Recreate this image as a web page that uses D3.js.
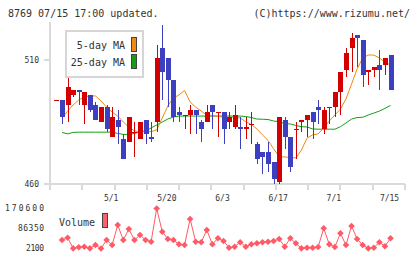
<!DOCTYPE html>
<html><head><meta charset="utf-8">
<script src="https://cdn.jsdelivr.net/npm/d3@7"></script>
<style>
body{margin:0;background:#fff}
svg{display:block}
text{font-family:"DejaVu Sans Mono",monospace;fill:#333}
</style>
</head><body>
<svg id="c" width="420" height="259"></svg>
<script>
// ---- data ----
const dates = ["4/16","4/17","4/20","4/21","4/22","4/23","4/24","4/27","4/28","4/30",
  "5/1","5/7","5/8","5/11","5/12","5/13","5/14","5/15","5/18","5/19",
  "5/20","5/21","5/22","5/25","5/26","5/27","5/28","5/29","6/1","6/2",
  "6/3","6/4","6/5","6/8","6/9","6/10","6/11","6/12","6/15","6/16",
  "6/17","6/18","6/19","6/22","6/23","6/24","6/25","6/26","6/29","6/30",
  "7/1","7/2","7/3","7/6","7/7","7/8","7/9","7/10","7/13","7/14","7/15"];
const open  = [494,494,492,496,498,492,496,492,485,491,479,486,478,477,481,478,486,479,485,515,
  511,502,489,488,488,490,485,485,492,489,489,485,483,483,482,484,476,473,473,469,
  461,486,479,482,485,486,489,491,482,491,491,497,506,515,520,518,505,506,508,508,512];
const high  = [494,494,503,498,498,497,496,493,491,492,491,490,480,487,485,485,486,485,516,524,
  511,502,491,488,492,490,486,492,492,489,489,489,492,487,487,489,477,473,477,469,
  487,487,479,485,486,488,489,494,491,491,497,505,515,521,520,518,506,507,514,511,512];
const low   = [494,484,485,495,492,484,489,486,485,481,479,476,470,477,471,478,476,477,481,494,
  491,485,485,482,480,480,477,485,482,479,476,482,482,474,478,476,468,464,465,460,
  460,474,465,470,481,479,478,484,480,484,487,488,503,505,507,499,500,503,498,504,498];
const close = [494,487,499,498,497,497,490,486,491,482,487,483,470,487,481,485,480,478,511,505,
  502,487,488,488,490,488,482,489,489,489,482,487,488,482,483,484,470,471,468,462,
  487,479,467,482,486,488,485,490,490,491,497,505,513,519,519,504,506,507,506,511,498];
const ma5 = [null,486.6,489.4,491.9,493.9,495.1,495.5,495.5,493.5,491.0,489.0,487.4,485.0,483.0,481.4,481.1,481.1,481.1,481.8,486.6,
  491.5,494.7,495.9,497.7,493.1,491.0,489.4,487.8,487.6,487.2,487.0,486.9,486.9,486.6,485.1,484.0,482.2,479.8,477.6,474.2,
  471.0,470.9,470.7,470.5,473.7,478.5,479.8,480.2,482.6,485.4,487.8,490.2,494.3,500.3,506.4,510.8,512.0,512.0,510.8,509.2,508.0];
const ma25 = [null,480.8,480.2,480.8,480.9,480.9,480.9,480.9,480.9,480.9,480.9,480.4,480.0,480.0,480.4,481.0,481.4,482.6,483.8,485.0,
  486.2,487.0,487.4,487.4,487.4,487.4,487.4,487.4,487.4,487.4,487.4,487.4,487.4,487.4,487.2,486.8,486.2,486.1,486.0,485.4,
  485.1,484.4,484.2,483.6,483.1,483.0,482.2,482.1,482.1,482.1,482.1,483.1,484.6,486.2,486.8,486.9,487.8,488.6,489.4,490.5,491.7];
const volume = [null,37900,47600,2900,7200,9700,2900,16800,2100,37900,16800,101100,37900,84200,37900,59000,37900,30700,170600,72900,
  42100,37900,19800,16800,126400,30700,28200,80000,19800,45100,33700,5500,9700,28200,9700,19800,24000,28200,30700,33700,
  42100,9700,45100,24000,2900,5500,5500,8400,87200,19800,8400,66100,16800,96900,42100,16800,2900,5500,28200,11400,45100];
const priceTicks = [460, 510];
const volumeTicks = [2100, 86350, 170600];
const dateLabels = ["5/1","5/20","6/3","6/17","7/1","7/15"];
const legendItems = ["5-day MA","25-day MA"];

// ---- styles ----
const RED = "#d40000", BLUE = "#3c40c0", ORANGE = "#f08a10", GREEN = "#12a012",
      VOL = "#ff5a66", AXIS = "#dadada";
const volLabelWidth = {2100: 18, 86350: 26, 170600: 39};

const svg = d3.select("#c");

// scales
const x = d3.scaleBand().domain(dates).range([53.7, 393.3]).padding(0);
const cx = d => x(d) + x.bandwidth() / 2;
const y = d3.scaleLinear().domain([460, 510]).range([184, 60]);
const yv = d3.scaleLinear().domain([2100, 170600]).range([248.5, 208.5]);
const grid = d3.scaleLinear().domain([0, 11]).range([50, 405]);

// header
svg.append("text").attr("x", 8).attr("y", 17).style("font-size", "10px")
  .text("8769 07/15 17:00 updated.");
svg.append("text").attr("x", 410).attr("y", 17).attr("text-anchor", "end").style("font-size", "10px")
  .text("(C)https://www.rizumu.net/");

// axes lines
const ax = svg.append("g").attr("stroke", AXIS).attr("stroke-width", 2).attr("shape-rendering", "crispEdges");
ax.append("line").attr("x1", grid(0)).attr("x2", grid(0)).attr("y1", 22).attr("y2", 190);
ax.append("line").attr("x1", grid(0)).attr("x2", grid(11)).attr("y1", y(460)).attr("y2", y(460));
ax.selectAll("line.t").data(d3.range(1, 12)).join("line").attr("class", "t")
  .attr("x1", d => grid(d)).attr("x2", d => grid(d)).attr("y1", y(460)).attr("y2", 190);
ax.selectAll("line.yt").data(priceTicks).join("line").attr("class", "yt")
  .attr("x1", 44).attr("x2", grid(0)).attr("y1", d => y(d)).attr("y2", d => y(d));

// price labels
svg.selectAll("text.py").data(priceTicks).join("text").attr("class", "py")
  .attr("x", 39).attr("y", d => y(d)).attr("dy", "0.35em").attr("text-anchor", "end")
  .style("font-size", "8px").text(d => d);

// date labels
svg.selectAll("text.dl").data(dateLabels).join("text").attr("class", "dl")
  .attr("x", d => cx(d) - 1).attr("y", 201).attr("text-anchor", "middle")
  .style("font-size", "8px").text(d => d);

// volume labels
svg.selectAll("text.vy").data(volumeTicks).join("text").attr("class", "vy")
  .attr("x", 44).attr("y", d => yv(d)).attr("dy", "0.35em").attr("text-anchor", "end")
  .attr("textLength", d => volLabelWidth[d]).attr("lengthAdjust", "spacing")
  .style("font-size", "8px").text(d => d);

// MA lines
const lineFor = arr => d3.line().defined((d, i) => arr[i] != null)
  .x((d, i) => cx(dates[i])).y((d, i) => y(arr[i]));
svg.append("path").datum(ma25).attr("d", lineFor(ma25)).attr("fill", "none")
  .attr("stroke", GREEN).attr("stroke-width", 1);
svg.append("path").datum(ma5).attr("d", lineFor(ma5)).attr("fill", "none")
  .attr("stroke", ORANGE).attr("stroke-width", 1);

// candles
const candles = dates.map((d, i) => ({d, o: open[i], h: high[i], l: low[i], c: close[i]}));
const cg = svg.append("g").attr("shape-rendering", "crispEdges");
cg.selectAll("line.w").data(candles).join("line").attr("class", "w")
  .attr("x1", d => Math.round(cx(d.d)) + 0.5).attr("x2", d => Math.round(cx(d.d)) + 0.5)
  .attr("y1", d => y(d.h)).attr("y2", d => y(d.l))
  .attr("stroke", d => d.c >= d.o ? RED : BLUE).attr("stroke-width", 1);
cg.selectAll("rect.b").data(candles).join("rect").attr("class", "b")
  .attr("x", d => Math.round(cx(d.d)) - 2).attr("width", 5)
  .attr("y", d => y(Math.max(d.o, d.c)))
  .attr("height", d => Math.max(1, Math.abs(y(d.o) - y(d.c))))
  .attr("fill", d => d.c >= d.o ? RED : BLUE);

// legend
const lg = svg.append("g");
lg.append("rect").attr("x", 66).attr("y", 31).attr("width", 77).attr("height", 46)
  .attr("fill", "#fff").attr("stroke", "#d6d6d6").attr("stroke-width", 2);
lg.selectAll("text").data(legendItems).join("text")
  .attr("x", 125).attr("y", (d, i) => 48.5 + i * 17).attr("text-anchor", "end")
  .style("font-size", "10px").text(d => d);
lg.selectAll("rect.s").data([ORANGE, GREEN]).join("rect").attr("class", "s")
  .attr("x", 131.5).attr("y", (d, i) => 37.5 + i * 17).attr("width", 5).attr("height", 14)
  .attr("fill", d => d).attr("stroke", "#444").attr("stroke-width", 1);

// volume
const vpts = volume.map((v, i) => ({d: dates[i], v})).filter(p => p.v != null);
svg.append("path").datum(vpts)
  .attr("d", d3.line().x(p => cx(p.d)).y(p => yv(p.v)))
  .attr("fill", "none").attr("stroke", VOL).attr("stroke-width", 1);
svg.selectAll("path.vd").data(vpts).join("path").attr("class", "vd")
  .attr("d", d3.symbol(d3.symbolSquare, 22))
  .attr("transform", p => `translate(${cx(p.d)},${yv(p.v)}) rotate(45)`)
  .attr("fill", VOL);
svg.append("text").attr("x", 59).attr("y", 226).style("font-size", "10px").text("Volume");
svg.append("rect").attr("x", 102.5).attr("y", 213.5).attr("width", 5).attr("height", 14)
  .attr("fill", "#ff6068").attr("stroke", "#444").attr("stroke-width", 1);
</script>
</body></html>
